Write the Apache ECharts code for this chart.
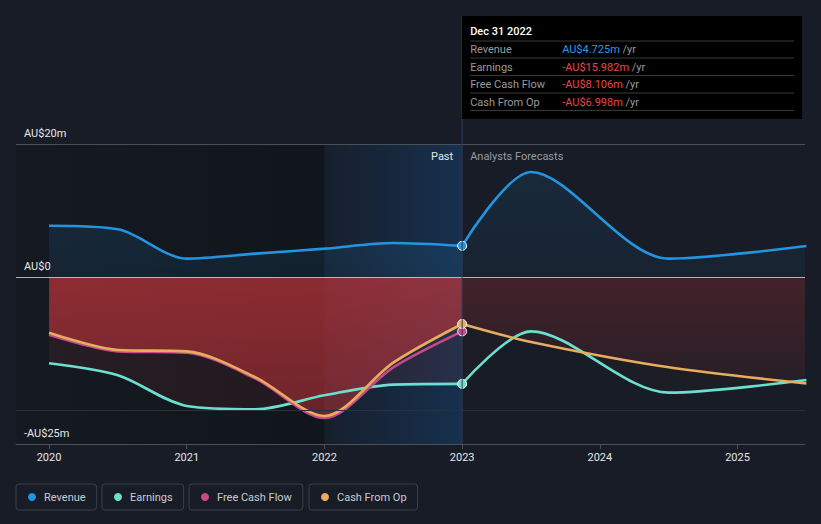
<!DOCTYPE html>
<html>
<head>
<meta charset="utf-8">
<script src="https://cdn.jsdelivr.net/npm/echarts@6/dist/echarts.min.js"></script>
<style>
html,body{margin:0;padding:0;background:#171c26;}
#chart{width:821px;height:524px;}
</style>
</head>
<body>
<div id="chart"></div>
<script>
// ---- data (AU$ millions) ----
const pastYears = [2020.0, 2020.5, 2021.0, 2021.5, 2022.0, 2022.5, 2023.0];
const forecastYears = [2023.0, 2023.5, 2024.5, 2025.5];
const revenuePast = [7.73, 7.2, 2.8, 3.55, 4.3, 5.15, 4.725];
const revenueForecast = [4.725, 15.8, 2.8, 4.7];
const earningsPast = [-12.9, -14.7, -19.3, -19.8, -17.7, -16.1, -15.982];
const earningsForecast = [-15.982, -8.1, -17.3, -15.4];
const fcfPast = [-8.6, -11.1, -11.3, -15.2, -21.1, -13.5, -8.106];
const cfoPast = [-8.3, -10.9, -11.1, -15.0, -20.8, -12.8, -6.998];
const cfoForecast = [-6.998, -9.7, -13.5, -15.9];
const xTickYears = [2020, 2021, 2022, 2023, 2024, 2025];
const yLabelValues = [20, 0, -25];
const tipDate = 'Dec 31 2022';
const seriesNames = ['Revenue', 'Earnings', 'Free Cash Flow', 'Cash From Op'];

const COLORS = {
  'Revenue': '#2394e0',
  'Earnings': '#6ae0cf',
  'Free Cash Flow': '#c8488c',
  'Cash From Op': '#e8ac5e'
};
const X_MIN = 2019.76, X_MAX = 2025.49;
const FONT = 'Roboto, "Noto Sans", sans-serif';
const SMOOTH = 0.3;

function pts(xs, ys, markLast) {
  return xs.map((x, i) => {
    if (markLast && i === xs.length - 1) return {value: [x, ys[i]], symbolSize: 9};
    return [x, ys[i]];
  });
}
function vgrad(c0, c1) {
  return new echarts.graphic.LinearGradient(0, 0, 0, 1, [{offset: 0, color: c0}, {offset: 1, color: c1}]);
}
function areaSeries(name, xs, ys, fill) {
  return {
    name, type: 'line', data: pts(xs, ys, false), smooth: SMOOTH,
    symbol: 'none', lineStyle: {width: 0}, areaStyle: {color: fill, origin: 0},
    z: 2, silent: true, color: COLORS[name]
  };
}
function lineSeries(name, xs, ys, markLast) {
  return {
    name, type: 'line', data: pts(xs, ys, markLast), smooth: SMOOTH,
    symbol: 'circle', symbolSize: 0, showSymbol: true, showAllSymbol: true,
    itemStyle: {color: COLORS[name], borderColor: '#ffffff', borderWidth: 1},
    lineStyle: {width: 2.6, color: COLORS[name]},
    z: 4, silent: true, color: COLORS[name]
  };
}
function fmtAxis(v) {
  if (v === 0) return 'AU$0';
  return (v < 0 ? '-' : '') + 'AU$' + Math.abs(v) + 'm';
}
function fmtTip(v) {
  return (v < 0 ? '-' : '') + 'AU$' + Math.abs(v).toFixed(3) + 'm';
}

const chart = echarts.init(document.getElementById('chart'), null, {renderer: 'svg'});

const series = [
  {
    name: '_bg', type: 'line', data: [], z: 1, silent: true,
    markArea: {
      silent: true,
      itemStyle: {color: new echarts.graphic.LinearGradient(0, 0, 1, 0, [{offset: 0, color: '#151a22'}, {offset: 1, color: '#11151c'}])},
      data: [[{xAxis: X_MIN}, {xAxis: 2022}]]
    },
    markLine: {
      silent: true, symbol: 'none', label: {show: false},
      data: [
        {yAxis: 20, lineStyle: {color: '#4a4f59', width: 1, type: 'solid'}},
        {yAxis: -20, lineStyle: {color: '#2a2f39', width: 1, type: 'solid'}}
      ]
    }
  },
  areaSeries('Revenue', pastYears, revenuePast, vgrad('rgba(35,148,224,0.18)', 'rgba(35,148,224,0.12)')),
  areaSeries('Revenue', forecastYears, revenueForecast, vgrad('rgba(35,148,224,0.16)', 'rgba(35,148,224,0.08)')),
  areaSeries('Earnings', pastYears, earningsPast, 'rgba(150,50,60,0.2)'),
  areaSeries('Earnings', forecastYears, earningsForecast, 'rgba(150,50,60,0.08)'),
  areaSeries('Cash From Op', pastYears, cfoPast, vgrad('rgba(205,55,60,0.88)', 'rgba(190,50,55,0.7)')),
  areaSeries('Cash From Op', forecastYears, cfoForecast, vgrad('rgba(190,50,55,0.33)', 'rgba(190,50,55,0.1)')),
  lineSeries('Revenue', pastYears, revenuePast, true),
  lineSeries('Revenue', forecastYears, revenueForecast, false),
  lineSeries('Earnings', pastYears, earningsPast, true),
  lineSeries('Earnings', forecastYears, earningsForecast, false),
  lineSeries('Free Cash Flow', pastYears, fcfPast, true),
  lineSeries('Cash From Op', forecastYears, cfoForecast, false),
  lineSeries('Cash From Op', pastYears, cfoPast, true),
  {
    name: '_ov', type: 'line', data: [], z: 3, silent: true,
    markArea: {
      silent: true,
      itemStyle: {color: new echarts.graphic.LinearGradient(0, 0, 1, 0, [{offset: 0, color: 'rgba(20,100,180,0.04)'}, {offset: 1, color: 'rgba(20,100,180,0.28)'}])},
      data: [[{xAxis: 2022}, {xAxis: 2023}]]
    },
    markLine: {
      silent: true, symbol: 'none', label: {show: false},
      data: [{yAxis: 0, lineStyle: {color: 'rgba(215,215,220,0.8)', width: 1.2, type: 'solid'}}]
    }
  }
];

const legendLefts = [16, 102, 189, 309];
const legends = seriesNames.map((n, i) => ({
  data: [n], left: legendLefts[i], top: 484, orient: 'horizontal',
  icon: 'circle', itemWidth: 8, itemHeight: 8,
  itemStyle: {borderWidth: 0},
  padding: [6, 11, 6, 12], borderColor: '#3a3f49', borderWidth: 1, borderRadius: 3,
  selectedMode: false,
  textStyle: {color: '#c9cdd3', fontSize: 11, fontFamily: FONT, lineHeight: 14, padding: [0, 0, 0, 3]}
}));

chart.setOption({
  backgroundColor: '#171c26',
  animation: false,
  textStyle: {fontFamily: FONT},
  grid: {left: 16, right: 16, top: 144, bottom: 80, containLabel: false},
  legend: legends,
  xAxis: {
    type: 'value', min: X_MIN, max: X_MAX, z: 10,
    splitLine: {show: false},
    axisLine: {show: true, onZero: false, lineStyle: {color: '#4a4f59', width: 1}},
    axisTick: {show: true, customValues: xTickYears, length: 5, lineStyle: {color: '#4a4f59'}},
    axisLabel: {customValues: xTickYears, formatter: v => String(Math.round(v)), color: '#e6e6e6', fontSize: 11, margin: 8, fontFamily: FONT}
  },
  yAxis: {
    type: 'value', min: -25, max: 20, interval: 5, z: 10,
    splitLine: {show: false}, axisLine: {show: false}, axisTick: {show: false},
    axisLabel: {inside: true, customValues: yLabelValues, formatter: fmtAxis, color: '#e8e8e8', fontSize: 11, margin: 8,
      verticalAlign: 'bottom', padding: [0, 0, 5, 0], fontFamily: FONT}
  },
  series
});

const xNow = chart.convertToPixel({xAxisIndex: 0}, 2023);
const yBottom = chart.convertToPixel({yAxisIndex: 0}, -25);
const yTop = chart.convertToPixel({yAxisIndex: 0}, 20);
const tipRows = [
  ['Revenue', revenuePast[revenuePast.length - 1], '#2d9be5'],
  ['Earnings', earningsPast[earningsPast.length - 1], '#e84747'],
  ['Free Cash Flow', fcfPast[fcfPast.length - 1], '#e84747'],
  ['Cash From Op', cfoPast[cfoPast.length - 1], '#e84747']
];
const boxX = xNow, boxY = 16, boxW = 340, boxH = 103;
const g = [];
g.push({type: 'line', silent: true, z: 5, shape: {x1: xNow, y1: boxY, x2: xNow, y2: yBottom}, style: {stroke: '#2c3b50', lineWidth: 1}});
g.push({type: 'rect', silent: true, z: 20, shape: {x: boxX, y: boxY, width: boxW, height: boxH}, style: {fill: '#000000'}});
g.push({type: 'text', silent: true, z: 21, x: boxX + 8, y: boxY + 15, style: {text: tipDate, fill: '#ffffff', fontSize: 11, fontWeight: 500, fontFamily: FONT, verticalAlign: 'middle'}});
const sepYs = [41, 58, 75.5, 93, 110.5];
sepYs.forEach(sy => g.push({type: 'line', silent: true, z: 21, shape: {x1: boxX + 8, y1: sy, x2: boxX + boxW - 8, y2: sy}, style: {stroke: '#383838', lineWidth: 1}}));
tipRows.forEach((r, i) => {
  const cy = 49.5 + i * 17.5;
  g.push({type: 'text', silent: true, z: 21, x: boxX + 8, y: cy, style: {text: r[0], fill: '#9a9a9a', fontSize: 11, fontFamily: FONT, verticalAlign: 'middle'}});
  g.push({type: 'text', silent: true, z: 21, x: boxX + 100, y: cy, style: {
    text: '{v|' + fmtTip(r[1]) + '} {u|/yr}', verticalAlign: 'middle', fontFamily: FONT, fontSize: 11,
    rich: {v: {fill: r[2], fontSize: 11, fontFamily: FONT}, u: {fill: '#9a9a9a', fontSize: 11, fontFamily: FONT}}
  }});
});
g.push({type: 'text', silent: true, z: 21, x: xNow - 9, y: yTop + 12, style: {text: 'Past', fill: '#e6e6e6', fontSize: 11, fontFamily: FONT, align: 'right', verticalAlign: 'middle'}});
g.push({type: 'text', silent: true, z: 21, x: xNow + 8, y: yTop + 12, style: {text: 'Analysts Forecasts', fill: '#969ba3', fontSize: 11, fontFamily: FONT, align: 'left', verticalAlign: 'middle'}});
chart.setOption({graphic: g});
</script>
</body>
</html>
